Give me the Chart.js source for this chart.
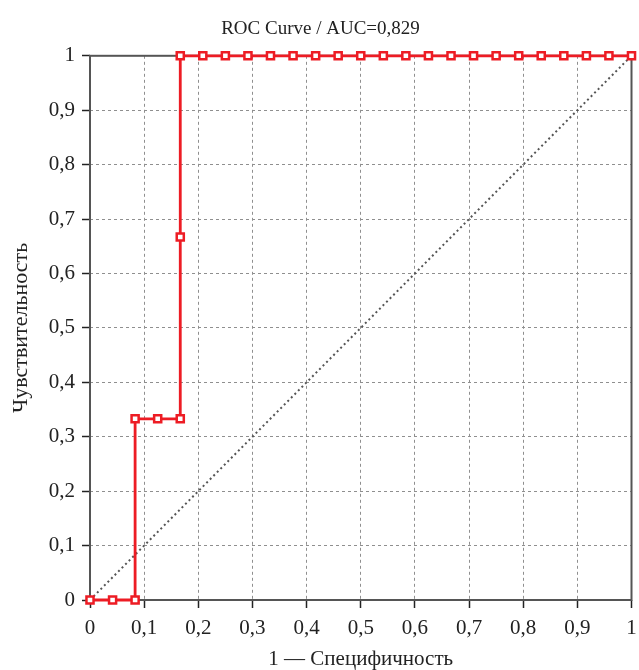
<!DOCTYPE html>
<html lang="ru">
<head>
    <meta charset="UTF-8">
    <title>ROC Curve</title>
    <script src="https://cdn.jsdelivr.net/npm/chart.js"></script>
    <style>
        html, body { margin: 0; padding: 0; background: #fff; }
        #wrap { width: 639px; height: 670px; }
    </style>
</head>
<body>
    <div id="wrap"><canvas id="rocChart"></canvas></div>

    <script>
        // values (1 - specificity, sensitivity)
        const fpr = [0, 0.0417, 0.0833, 0.0833, 0.125, 0.1667, 0.1667, 0.1667,
            0.2083, 0.25, 0.2917, 0.3333, 0.375, 0.4167, 0.4583, 0.5, 0.5417, 0.5833,
            0.625, 0.6667, 0.7083, 0.75, 0.7917, 0.8333, 0.875, 0.9167, 0.9583, 1];
        const tpr = [0, 0, 0, 0.333, 0.333, 0.333, 0.667, 1,
            1, 1, 1, 1, 1, 1, 1, 1, 1, 1,
            1, 1, 1, 1, 1, 1, 1, 1, 1, 1];
        const diagX = [0, 1];
        const diagY = [0, 1];

        const titleText = 'ROC Curve / AUC=0,829';
        const xTitle = '1 \u2014 Специфичность';
        const yTitle = 'Чувствительность';

        const serif = "'Liberation Serif', 'Times New Roman', serif";

        const fmt = v => String(Math.round(v * 10) / 10).replace('.', ',');

        // frame around the plot area, drawn under the markers
        const framePlugin = {
            id: 'frame',
            beforeDatasetsDraw(chart) {
                const a = chart.chartArea;
                const ctx = chart.ctx;
                ctx.save();
                ctx.strokeStyle = '#555';
                ctx.lineWidth = 2;
                ctx.strokeRect(a.left, a.top, a.right - a.left, a.bottom - a.top);
                ctx.restore();
            }
        };

        const gridOpts = {
            color: '#8f8f8f',
            lineWidth: 1,
            drawTicks: true,
            tickLength: 8,
            tickColor: '#222',
            tickWidth: 1.5,
            tickBorderDash: []
        };
        const borderOpts = { display: false, dash: [3, 3] };

        new Chart(document.getElementById('rocChart'), {
            type: 'scatter',
            data: {
                datasets: [
                    {
                        data: fpr.map((x, i) => ({ x, y: tpr[i] })),
                        showLine: true,
                        borderColor: '#ed1c24',
                        borderWidth: 2.8,
                        pointStyle: 'rect',
                        pointRadius: 5,
                        pointBackgroundColor: '#fff',
                        pointBorderColor: '#ed1c24',
                        pointBorderWidth: 2.5,
                        tension: 0,
                        clip: false,
                        order: 0
                    },
                    {
                        data: diagX.map((x, i) => ({ x, y: diagY[i] })),
                        showLine: true,
                        borderColor: '#555',
                        borderWidth: 2,
                        borderDash: [2, 3],
                        pointRadius: 0,
                        order: 1
                    }
                ]
            },
            options: {
                responsive: true,
                maintainAspectRatio: false,
                animation: false,
                layout: { padding: { top: 2, right: 6, left: 8, bottom: 0 } },
                plugins: {
                    legend: { display: false },
                    tooltip: { enabled: false },
                    title: {
                        display: true,
                        text: titleText,
                        color: '#222',
                        font: { family: serif, size: 19, weight: 'normal' },
                        padding: { top: 16, bottom: 15 }
                    }
                },
                scales: {
                    x: {
                        type: 'linear',
                        min: 0,
                        max: 1,
                        afterFit(scale) {
                            scale.height = 70;
                            scale.paddingLeft = 0;
                            scale.paddingRight = 0;
                        },
                        ticks: {
                            stepSize: 0.1,
                            color: '#222',
                            font: { family: serif, size: 21 },
                            padding: 8,
                            maxRotation: 0,
                            callback: fmt
                        },
                        grid: gridOpts,
                        border: borderOpts,
                        title: {
                            display: true,
                            text: xTitle,
                            color: '#222',
                            font: { family: serif, size: 21 },
                            padding: { top: 0, bottom: -2 }
                        }
                    },
                    y: {
                        type: 'linear',
                        min: 0,
                        max: 1,
                        afterFit(scale) {
                            scale.width = 82;
                        },
                        ticks: {
                            stepSize: 0.1,
                            color: '#222',
                            font: { family: serif, size: 21 },
                            padding: 7,
                            callback: fmt
                        },
                        grid: gridOpts,
                        border: borderOpts,
                        title: {
                            display: true,
                            text: yTitle,
                            color: '#222',
                            font: { family: serif, size: 22 },
                            padding: { top: 0, bottom: 8 }
                        }
                    }
                }
            },
            plugins: [framePlugin]
        });
    </script>
</body>
</html>
